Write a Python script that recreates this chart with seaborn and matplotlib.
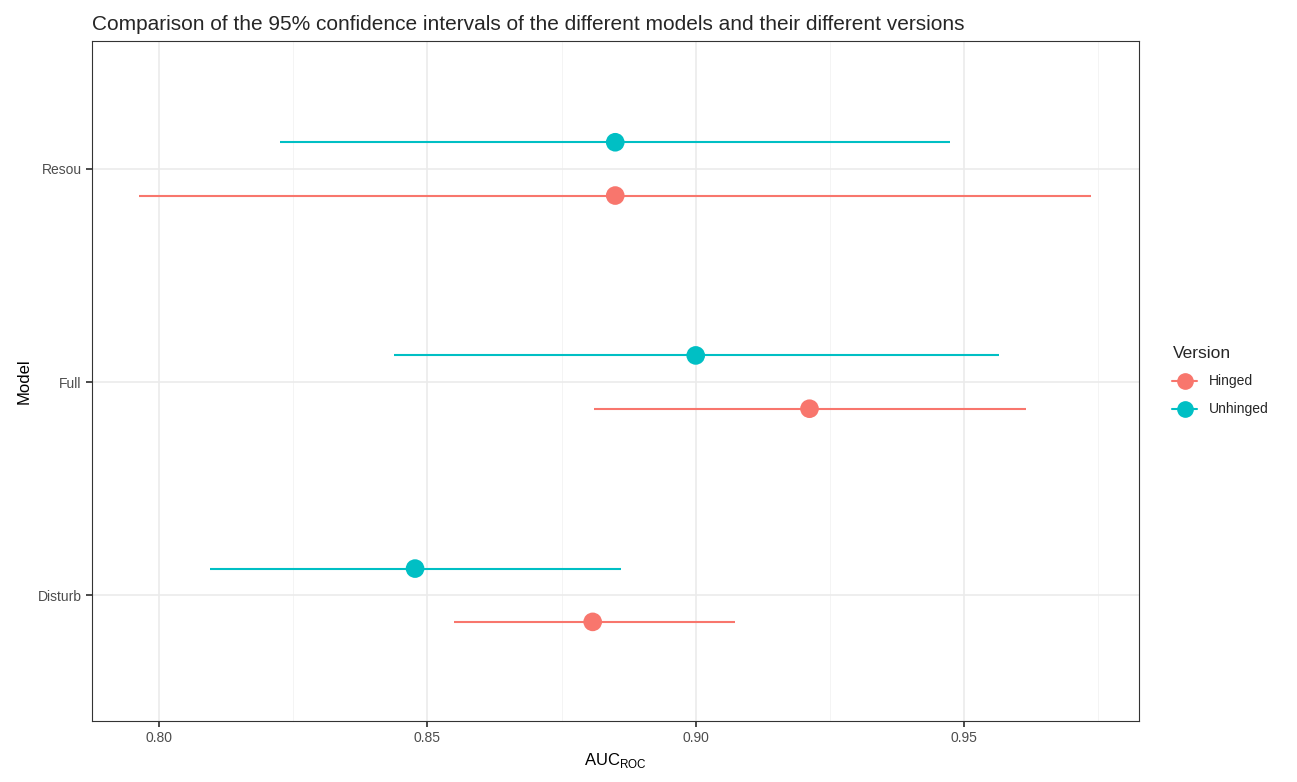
import matplotlib
matplotlib.use("Agg")
import matplotlib.pyplot as plt
import seaborn as sns
import pandas as pd
from matplotlib.lines import Line2D

models = ["Disturb", "Full", "Resou"]
versions = ["Hinged", "Unhinged"]
auc = {"Hinged": [0.8808, 0.9212, 0.885], "Unhinged": [0.8477, 0.900, 0.885]}
lower = {"Hinged": [0.8549, 0.881, 0.7963], "Unhinged": [0.8095, 0.8438, 0.8225]}
upper = {"Hinged": [0.9073, 0.9615, 0.9736], "Unhinged": [0.886, 0.9565, 0.9473]}
colors = {"Hinged": "#F8766D", "Unhinged": "#00BFC4"}
offset = {"Hinged": -0.125, "Unhinged": 0.125}

rows = []
for v in versions:
    for i, m in enumerate(models):
        rows.append(dict(Model=m, Version=v, y=i + 1 + offset[v], auc=auc[v][i], lo=lower[v][i], hi=upper[v][i]))
df = pd.DataFrame(rows)

sns.set_theme(style="whitegrid")
plt.rcParams['font.family'] = ['Liberation Sans', 'DejaVu Sans']
fig = plt.figure(figsize=(12.97, 7.82), dpi=100)
ax = fig.add_axes([92/1297, 61/782, 1047/1297, 680/782])

for _, r in df.iterrows():
    ax.hlines(r.y, r.lo, r.hi, color=colors[r.Version], lw=1.5, zorder=2)
sns.scatterplot(data=df, x="auc", y="y", hue="Version", palette=colors, s=180, edgecolor="none", ax=ax, legend=False, zorder=3)

ax.set_xlim(0.7875, 0.9826)
ax.set_ylim(0.41, 3.6)
ax.set_xticks([0.80, 0.85, 0.90, 0.95])
ax.set_xticklabels(["0.80", "0.85", "0.90", "0.95"])
ax.set_xticks([0.825, 0.875, 0.925, 0.975], minor=True)
ax.set_yticks([1, 2, 3])
ax.set_yticklabels(models)
ax.grid(True, which="major", color="#EBEBEB", lw=1.2)
ax.grid(True, which="minor", axis="x", color="#F3F3F3", lw=0.6)
ax.tick_params(which="major", length=4, color="#333333", labelsize=10, labelcolor="#4D4D4D", bottom=True, left=True)
ax.tick_params(which="minor", length=0)
for s in ax.spines.values():
    s.set_color("#333333"); s.set_linewidth(0.8); s.set_visible(True)
ax.set_facecolor("white")
ax.set_xlabel("AUC$_{\\mathregular{ROC}}$", fontsize=12, color="black")
ax.set_ylabel("Model", fontsize=12, color="black")
ax.set_title("Comparison of the 95% confidence intervals of the different models and their different versions",
             fontsize=15, loc="left", x=0.0, pad=8)

handles = [Line2D([0], [0], color=colors[v], marker="o", markersize=11, lw=1.5) for v in versions]
leg = ax.legend(handles, versions, title="Version", loc="center left", bbox_to_anchor=(1.02, 0.5),
                frameon=False, fontsize=10, title_fontsize=12.5, handlelength=1.8, labelspacing=1.0)
leg._legend_box.align = "left"
fig.savefig("out.png", dpi=100)
